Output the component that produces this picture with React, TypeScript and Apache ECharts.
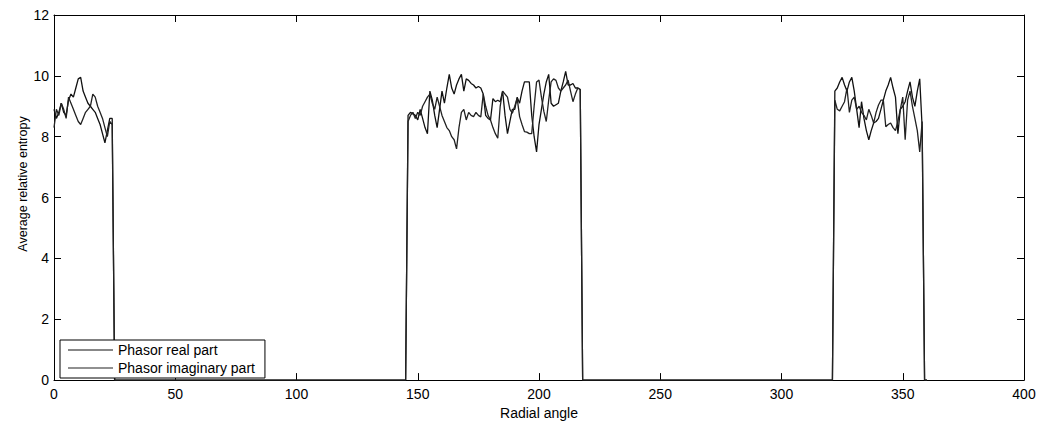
import React, { useEffect, useRef } from "react";
import * as echarts from "echarts";

// Segment start angles (degrees)
const segStarts = [0, 146, 322];
// Angles where the curves sit at zero between segments
const zeroAngles = [[25, 145], [218, 321], [359, 360]];

const realSeg1 = [8.9, 8.6, 8.8, 9.1, 8.8, 8.7, 9.2, 9.4, 9.3, 9.6, 9.9, 9.95, 9.5, 9.3, 9.1, 9.0, 8.9, 8.8, 8.6, 8.4, 8.1, 7.8, 8.2, 8.6, 8.6];
const imagSeg1 = [8.3, 8.9, 8.7, 9.1, 8.9, 8.6, 9.3, 9.1, 8.9, 8.7, 8.5, 8.4, 8.6, 8.8, 8.9, 9.0, 9.4, 9.3, 9.0, 8.8, 8.6, 8.3, 8.0, 8.5, 8.4];

const realSeg2 = [
  8.7, 8.8, 8.75, 8.7, 8.55, 8.9, 8.6, 8.3, 8.1, 9.5,
  9.2, 8.7, 8.3, 8.9, 9.5, 9.1, 9.6, 10.05, 9.6, 9.4,
  9.7, 9.9, 10.05, 9.5, 9.9, 9.85, 9.75, 9.7, 9.6, 9.65,
  9.6, 9.4, 8.7, 8.6, 8.55, 9.25, 9.15, 9.2, 9.15, 9.5,
  8.7, 8.1, 8.5, 8.9, 8.9, 9.3, 9.1, 9.5, 9.8, 9.8,
  9.8, 8.7, 8.0, 7.5, 8.4, 8.9, 9.4, 9.8, 10.05, 9.1,
  9.0, 9.05, 9.1, 9.5, 9.8, 10.15, 9.7, 9.7, 9.75, 9.6,
  9.6, 9.55,
];
const imagSeg2 = [
  8.5, 8.7, 8.8, 8.6, 8.8, 8.7, 9.0, 9.15, 9.3, 9.4,
  9.1, 8.9, 9.3, 9.0, 8.7, 8.5, 8.3, 8.2, 8.0, 7.9,
  7.6, 8.3, 8.8, 8.9, 8.55, 8.8, 8.7, 8.66, 8.8, 8.7,
  8.65, 9.4, 9.0, 8.7, 8.55, 8.3, 8.1, 7.95, 9.0, 9.5,
  9.4, 9.3, 8.9, 8.77, 9.0, 9.26, 8.66, 8.4, 8.17, 8.15,
  8.1, 8.1, 9.0, 9.8, 9.86, 9.3, 8.83, 8.5, 9.2, 9.8,
  9.9, 9.85, 9.6, 9.5, 9.6, 9.7, 9.86, 9.5, 9.15, 9.4,
  9.6, 9.55,
];

const realSeg3 = [
  9.5, 9.6, 9.8, 9.95, 9.7, 9.5, 9.8, 9.95, 9.5, 8.9,
  8.3, 9.15, 8.6, 8.2, 7.9, 8.2, 8.45, 8.5, 8.6, 8.9,
  9.2, 9.5, 9.7, 9.95, 9.6, 9.3, 8.1, 8.9, 9.0, 9.15,
  9.5, 9.8, 9.3, 9.0, 9.5, 9.9, 8.3,
];
const imagSeg3 = [
  9.2, 8.9, 8.85, 9.0, 9.15, 9.6, 8.8, 9.2, 9.3, 8.9,
  9.0, 8.8, 8.7, 8.55, 8.9, 8.7, 8.45, 8.8, 9.04, 9.2,
  9.2, 8.33, 8.4, 8.45, 8.3, 8.2, 8.5, 8.9, 9.3, 7.9,
  9.2, 9.5, 9.0, 8.6, 8.2, 7.5, 8.5,
];

const xTicks = { min: 0, max: 400, interval: 50 };
const yTicks = { min: 0, max: 12, interval: 2 };
const seriesNames = ["Phasor real part", "Phasor imaginary part"];

function buildPoints(segs: number[][]): number[][] {
  const pts: number[][] = [];
  segs.forEach((vals, si) => {
    vals.forEach((v, i) => pts.push([segStarts[si] + i, v]));
    zeroAngles[si].forEach((a) => pts.push([a, 0]));
  });
  return pts;
}

export default function App() {
  const ref = useRef<HTMLDivElement>(null);
  useEffect(() => {
    if (!ref.current) return;
    const chart = echarts.init(ref.current, null, { renderer: "svg" });
    const font = "'Liberation Sans', Arial, Helvetica, sans-serif";
    const axisCommon = {
      type: "value" as const,
      axisLine: { show: true, onZero: false, lineStyle: { color: "#000", width: 1 } },
      axisTick: { show: true, inside: true, length: 7, lineStyle: { color: "#000" } },
      splitLine: { show: false },
    };
    chart.setOption({
      animation: false,
      backgroundColor: "#fff",
      grid: { left: 54, right: 18, top: 15, bottom: 41 },
      legend: {
        orient: "vertical",
        left: 60,
        top: 340,
        data: seriesNames,
        icon: "rect",
        itemWidth: 45,
        itemHeight: 1,
        itemGap: 4,
        padding: [3, 10, 3, 8],
        backgroundColor: "#fff",
        borderColor: "#000",
        borderWidth: 1,
        textStyle: { color: "#000", fontSize: 14, fontFamily: font },
      },
      xAxis: [
        {
          ...axisCommon,
          ...xTicks,
          position: "bottom",
          name: "Radial angle",
          nameLocation: "middle",
          nameGap: 24,
          nameTextStyle: { color: "#000", fontSize: 14, fontFamily: font },
          axisLabel: { color: "#000", fontSize: 14, fontFamily: font, margin: 7 },
        },
        {
          ...axisCommon,
          ...xTicks,
          position: "top",
          axisLabel: { show: false },
        },
      ],
      yAxis: [
        {
          ...axisCommon,
          ...yTicks,
          position: "left",
          axisLabel: { color: "#000", fontSize: 14, fontFamily: font, margin: 5 },
        },
        {
          ...axisCommon,
          ...yTicks,
          position: "right",
          axisLabel: { show: false },
        },
      ],
      graphic: [
        {
          type: "text",
          x: 23,
          y: 184,
          rotation: Math.PI / 2,
          style: {
            text: "Average relative entropy",
            fill: "#000",
            fontSize: 12.5,
            fontFamily: font,
            align: "center",
            verticalAlign: "middle",
          },
        },
      ],
      series: [
        {
          name: seriesNames[0],
          type: "line",
          xAxisIndex: 0,
          yAxisIndex: 0,
          showSymbol: false,
          symbol: "none",
          data: buildPoints([realSeg1, realSeg2, realSeg3]),
          lineStyle: { color: "#111", width: 1.3 },
          itemStyle: { color: "#111" },
        },
        {
          name: seriesNames[1],
          type: "line",
          xAxisIndex: 0,
          yAxisIndex: 0,
          showSymbol: false,
          symbol: "none",
          data: buildPoints([imagSeg1, imagSeg2, imagSeg3]),
          lineStyle: { color: "#222", width: 1.3 },
          itemStyle: { color: "#222" },
        },
      ],
    });
    return () => chart.dispose();
  }, []);
  return (
    <div
      ref={ref}
      style={{ position: "absolute", left: 0, top: 0, width: 1042, height: 425 }}
    />
  );
}
